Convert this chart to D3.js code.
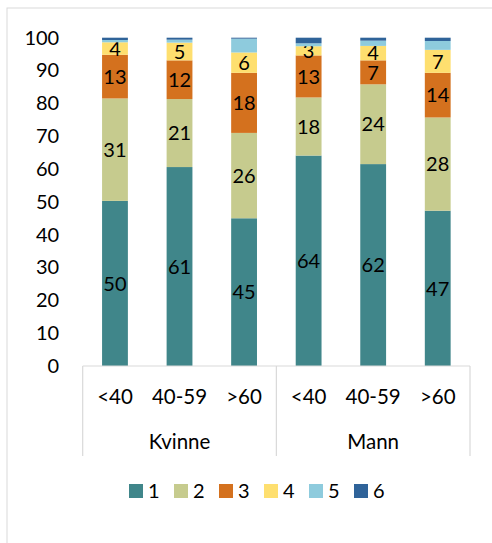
<!DOCTYPE html>
<html><head><meta charset="utf-8">
<script src="https://cdn.jsdelivr.net/npm/d3@7"></script>
<style>body{margin:0;background:#fff}svg{display:block}text{font-family:Lato,"Open Sans",sans-serif;fill:#000}</style>
</head><body>
<script>
const groups = ["Kvinne","Kvinne","Kvinne","Mann","Mann","Mann"];
const ages = ["<40","40-59",">60","<40","40-59",">60"];
const seriesNames = ["1","2","3","4","5","6"];
const s1 = [50.3, 60.6, 45.0, 64.1, 61.5, 47.3];
const s2 = [31.2, 20.7, 26.0, 17.7, 24.3, 28.4];
const s3 = [13.3, 11.8, 18.3, 12.8, 7.3, 13.6];
const s4 = [3.8, 5.4, 6.2, 2.8, 4.4, 7.0];
const s5 = [0.7, 0.9, 4.2, 0.9, 1.6, 2.7];
const s6 = [0.7, 0.6, 0.3, 1.7, 0.9, 1.0];
const yTicks = [0,10,20,30,40,50,60,70,80,90,100];
const colors = ["#40868a","#c6cb8e","#d4711e","#fedf6f","#8ecbdd","#2f6399"];
const labeled = [true,true,true,true,false,false];

const W=492,H=543;
const svg=d3.select("body").append("svg").attr("width",W).attr("height",H);
svg.append("rect").attr("x",7).attr("y",8).attr("width",W).attr("height",H).attr("fill","#fff").attr("stroke","#d9d9d9").attr("stroke-width",1);

const pLeft=82.7,pRight=470,pTop=37.7,pBottom=366;
const x=d3.scaleBand().domain(d3.range(6)).range([pLeft,pRight]).paddingInner(0.6).paddingOuter(0.3);
const y=d3.scaleLinear().domain([0,100]).range([pBottom,pTop]);

const data=d3.range(6).map(i=>({i,"1":s1[i],"2":s2[i],"3":s3[i],"4":s4[i],"5":s5[i],"6":s6[i]}));
const stack=d3.stack().keys(seriesNames)(data);

stack.forEach((layer,k)=>{
  svg.append("g").selectAll("rect").data(layer).join("rect")
    .attr("x",d=>x(d.data.i)).attr("width",x.bandwidth())
    .attr("y",d=>y(d[1])).attr("height",d=>y(d[0])-y(d[1]))
    .attr("fill",colors[k]);
  if(labeled[k]){
    svg.append("g").selectAll("text").data(layer).join("text")
      .attr("x",d=>x(d.data.i)+x.bandwidth()/2)
      .attr("y",d=>y((d[0]+d[1])/2))
      .attr("dy","0.36em").attr("text-anchor","middle").attr("font-size",20)
      .text(d=>d3.format(".0f")(d[1]-d[0]));
  }
});

// y axis
const ya=svg.append("g").attr("transform",`translate(${pLeft},0)`)
  .call(d3.axisLeft(y).tickValues(yTicks).tickSize(0).tickPadding(23.5));
ya.select(".domain").remove();
ya.selectAll("text").attr("font-size",20).attr("font-family","Lato,'Open Sans',sans-serif").attr("fill","#000");

// x axis lines
const g=svg.append("g").attr("stroke","#d9d9d9").attr("stroke-width",1.2);
g.append("line").attr("x1",pLeft).attr("x2",pRight).attr("y1",pBottom).attr("y2",pBottom);
const step=(pRight-pLeft)/6;
[0,3,6].forEach(k=>{
  g.append("line").attr("x1",pLeft+k*step).attr("x2",pLeft+k*step).attr("y1",pBottom).attr("y2",456);
});
svg.append("g").selectAll("text").data(ages).join("text")
  .attr("x",(d,i)=>pLeft+step*(i+0.5)).attr("y",396.5).attr("dy","0.36em")
  .attr("text-anchor","middle").attr("font-size",20.5).text(d=>d);
const grpNames=["Kvinne","Mann"];
svg.append("g").selectAll("text").data(grpNames).join("text")
  .attr("x",(d,i)=>pLeft+step*(3*i+1.5)).attr("y",441.5).attr("dy","0.36em")
  .attr("text-anchor","middle").attr("font-size",20.5).text(d=>d);

// legend
const lg=svg.append("g").selectAll("g").data(seriesNames).join("g")
  .attr("transform",(d,i)=>`translate(${129+i*45},484)`);
lg.append("rect").attr("width",14).attr("height",14).attr("fill",(d,i)=>colors[i]);
lg.append("text").attr("x",19).attr("y",7).attr("dy","0.36em").attr("font-size",20).text(d=>d);
</script>
</body></html>
